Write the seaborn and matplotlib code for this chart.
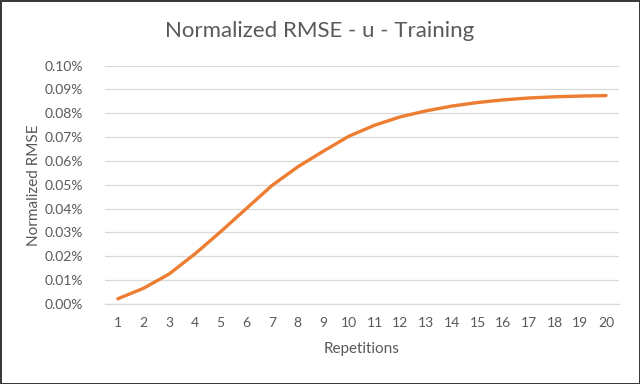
import matplotlib
matplotlib.use("Agg")
import matplotlib.pyplot as plt
import seaborn as sns
import pandas as pd
from matplotlib.ticker import FuncFormatter, MultipleLocator

# Data (values in percent)
repetitions = list(range(1, 21))
nrmse_pct = [0.0022, 0.0066, 0.0126, 0.0210, 0.0303, 0.0400, 0.0497, 0.0575, 0.0641,
             0.0704, 0.0750, 0.0785, 0.0810, 0.0830, 0.0845, 0.0856, 0.0864, 0.0869,
             0.0872, 0.0874]
title = "Normalized RMSE - u - Training"
xlabel = "Repetitions"
ylabel = "Normalized RMSE"

df = pd.DataFrame({"Repetitions": repetitions, "NRMSE": nrmse_pct})

sns.set_theme(style="white")
plt.rcParams["font.family"] = ["Lato", "DejaVu Sans"]

fig = plt.figure(figsize=(6.4, 3.84), dpi=100)
fig.patch.set_facecolor("white")
fig.patch.set_edgecolor("#3a3a3a")
fig.patch.set_linewidth(2.0)

ax = fig.add_axes([0.164, 0.2083, 0.803, 0.621])
sns.lineplot(data=df, x="Repetitions", y="NRMSE", ax=ax, color="#ED7D31",
             linewidth=2.4, solid_capstyle="round", solid_joinstyle="round")

grey = "#595959"
ax.set_xlim(0.5, 20.5)
ax.set_ylim(0, 0.1)
ax.yaxis.set_major_locator(MultipleLocator(0.01))
ax.yaxis.set_major_formatter(FuncFormatter(lambda v, p: f"{v:.2f}%"))
ax.set_xticks(repetitions)
ax.set_xticklabels([str(r) for r in repetitions])
ax.grid(axis="y", color="#d9d9d9", linewidth=0.9)
ax.set_axisbelow(True)
for s in ["top", "right", "left"]:
    ax.spines[s].set_visible(False)
ax.spines["bottom"].set_color("#d9d9d9")
ax.spines["bottom"].set_linewidth(0.9)
ax.tick_params(axis="both", length=0, labelsize=10, labelcolor=grey)
ax.tick_params(axis="x", pad=9)
ax.tick_params(axis="y", pad=16)
ax.set_xlabel(xlabel, fontsize=11, color=grey, labelpad=10)
ax.set_ylabel(ylabel, fontsize=11, color=grey, labelpad=2)
fig.suptitle(title, x=0.5, y=0.945, fontsize=16, color=grey)

fig.savefig("out.png", dpi=100, facecolor=fig.get_facecolor(), edgecolor=fig.get_edgecolor())
